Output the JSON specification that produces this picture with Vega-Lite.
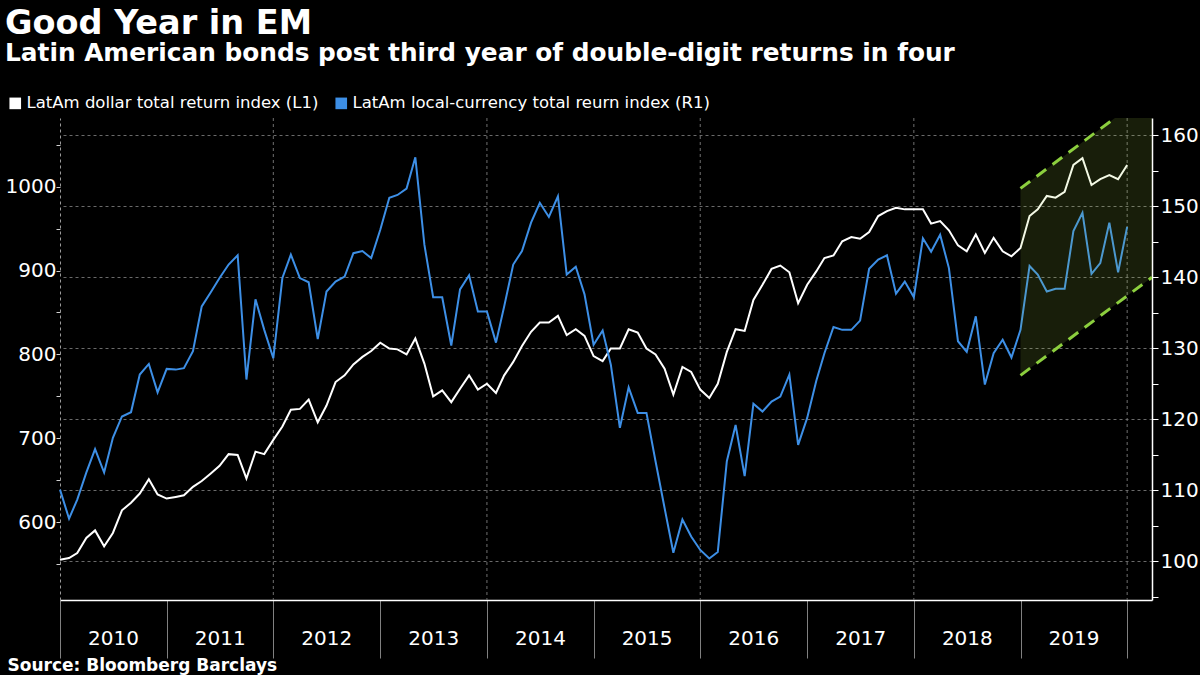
{
 "$schema": "https://vega.github.io/schema/vega-lite/v6.json",
 "width": 1092,
 "height": 482,
 "autosize": "none",
 "padding": {"left": 60, "top": 118, "right": 48, "bottom": 75},
 "background": "#000000",
 "config": {"view": {"stroke": null}, "font": "DejaVu Sans"},
 "title": {
  "text": "Good Year in EM",
  "subtitle": "Latin American bonds post third year of double-digit returns in four",
  "anchor": "start", "frame": "group", "dx": -55, "offset": 28,
  "font": "DejaVu Sans", "fontSize": 33.5, "fontWeight": "bold", "color": "#ffffff",
  "subtitleFont": "DejaVu Sans", "subtitleFontSize": 24.8, "subtitleFontWeight": "bold",
  "subtitleColor": "#ffffff", "subtitlePadding": 0
 },
 "datasets": {
  "series": [
   {"date":"2010-01-01","dollar":555,"local":110.1},
   {"date":"2010-02-01","dollar":557,"local":106.0},
   {"date":"2010-03-01","dollar":563,"local":108.7},
   {"date":"2010-04-01","dollar":581,"local":112.5},
   {"date":"2010-05-01","dollar":590,"local":115.8},
   {"date":"2010-06-01","dollar":571,"local":112.5},
   {"date":"2010-07-01","dollar":587,"local":117.4},
   {"date":"2010-08-01","dollar":614,"local":120.4},
   {"date":"2010-09-01","dollar":623,"local":121.0},
   {"date":"2010-10-01","dollar":634,"local":126.3},
   {"date":"2010-11-01","dollar":651,"local":127.8},
   {"date":"2010-12-01","dollar":633,"local":123.8},
   {"date":"2011-01-01","dollar":628,"local":127.1},
   {"date":"2011-02-01","dollar":630,"local":127.0},
   {"date":"2011-03-01","dollar":632,"local":127.2},
   {"date":"2011-04-01","dollar":642,"local":129.6},
   {"date":"2011-05-01","dollar":649,"local":135.9},
   {"date":"2011-06-01","dollar":658,"local":137.9},
   {"date":"2011-07-01","dollar":667,"local":139.9},
   {"date":"2011-08-01","dollar":681,"local":141.8},
   {"date":"2011-09-01","dollar":680,"local":143.1},
   {"date":"2011-10-01","dollar":652,"local":125.6},
   {"date":"2011-11-01","dollar":684,"local":136.9},
   {"date":"2011-12-01","dollar":681,"local":132.6},
   {"date":"2012-01-01","dollar":698,"local":128.6},
   {"date":"2012-02-01","dollar":714,"local":139.9},
   {"date":"2012-03-01","dollar":734,"local":143.2},
   {"date":"2012-04-01","dollar":735,"local":139.9},
   {"date":"2012-05-01","dollar":746,"local":139.3},
   {"date":"2012-06-01","dollar":719,"local":131.3},
   {"date":"2012-07-01","dollar":739,"local":138.0},
   {"date":"2012-08-01","dollar":767,"local":139.4},
   {"date":"2012-09-01","dollar":775,"local":140.1},
   {"date":"2012-10-01","dollar":788,"local":143.4},
   {"date":"2012-11-01","dollar":797,"local":143.7},
   {"date":"2012-12-01","dollar":804,"local":142.7},
   {"date":"2013-01-01","dollar":814,"local":146.7},
   {"date":"2013-02-01","dollar":807,"local":151.2},
   {"date":"2013-03-01","dollar":806,"local":151.6},
   {"date":"2013-04-01","dollar":800,"local":152.5},
   {"date":"2013-05-01","dollar":819,"local":156.9},
   {"date":"2013-06-01","dollar":789,"local":144.6},
   {"date":"2013-07-01","dollar":750,"local":137.2},
   {"date":"2013-08-01","dollar":757,"local":137.2},
   {"date":"2013-09-01","dollar":743,"local":130.4},
   {"date":"2013-10-01","dollar":759,"local":138.3},
   {"date":"2013-11-01","dollar":775,"local":140.3},
   {"date":"2013-12-01","dollar":758,"local":135.2},
   {"date":"2014-01-01","dollar":765,"local":135.2},
   {"date":"2014-02-01","dollar":754,"local":130.8},
   {"date":"2014-03-01","dollar":775,"local":135.9},
   {"date":"2014-04-01","dollar":791,"local":141.8},
   {"date":"2014-05-01","dollar":810,"local":143.7},
   {"date":"2014-06-01","dollar":827,"local":147.7},
   {"date":"2014-07-01","dollar":838,"local":150.5},
   {"date":"2014-08-01","dollar":838,"local":148.5},
   {"date":"2014-09-01","dollar":846,"local":151.4},
   {"date":"2014-10-01","dollar":823,"local":140.4},
   {"date":"2014-11-01","dollar":830,"local":141.5},
   {"date":"2014-12-01","dollar":822,"local":137.6},
   {"date":"2015-01-01","dollar":798,"local":130.5},
   {"date":"2015-02-01","dollar":792,"local":132.5},
   {"date":"2015-03-01","dollar":807,"local":127.7},
   {"date":"2015-04-01","dollar":807,"local":118.8},
   {"date":"2015-05-01","dollar":830,"local":124.5},
   {"date":"2015-06-01","dollar":826,"local":120.9},
   {"date":"2015-07-01","dollar":807,"local":120.9},
   {"date":"2015-08-01","dollar":800,"local":114.1},
   {"date":"2015-09-01","dollar":783,"local":107.5},
   {"date":"2015-10-01","dollar":752,"local":101.2},
   {"date":"2015-11-01","dollar":785,"local":105.9},
   {"date":"2015-12-01","dollar":779,"local":103.5},
   {"date":"2016-01-01","dollar":758,"local":101.6},
   {"date":"2016-02-01","dollar":748,"local":100.4},
   {"date":"2016-03-01","dollar":765,"local":101.3},
   {"date":"2016-04-01","dollar":803,"local":114.1},
   {"date":"2016-05-01","dollar":830,"local":119.2},
   {"date":"2016-06-01","dollar":828,"local":112.0},
   {"date":"2016-07-01","dollar":865,"local":122.2},
   {"date":"2016-08-01","dollar":883,"local":121.1},
   {"date":"2016-09-01","dollar":902,"local":122.5},
   {"date":"2016-10-01","dollar":906,"local":123.2},
   {"date":"2016-11-01","dollar":898,"local":126.3},
   {"date":"2016-12-01","dollar":861,"local":116.4},
   {"date":"2017-01-01","dollar":883,"local":120.2},
   {"date":"2017-02-01","dollar":899,"local":125.4},
   {"date":"2017-03-01","dollar":915,"local":129.3},
   {"date":"2017-04-01","dollar":918,"local":133.0},
   {"date":"2017-05-01","dollar":935,"local":132.6},
   {"date":"2017-06-01","dollar":940,"local":132.6},
   {"date":"2017-07-01","dollar":938,"local":133.9},
   {"date":"2017-08-01","dollar":946,"local":141.2},
   {"date":"2017-09-01","dollar":965,"local":142.5},
   {"date":"2017-10-01","dollar":971,"local":143.1},
   {"date":"2017-11-01","dollar":975,"local":137.7},
   {"date":"2017-12-01","dollar":973,"local":139.4},
   {"date":"2018-01-01","dollar":973,"local":137.2},
   {"date":"2018-02-01","dollar":973,"local":145.5},
   {"date":"2018-03-01","dollar":956,"local":143.6},
   {"date":"2018-04-01","dollar":959,"local":146.0},
   {"date":"2018-05-01","dollar":948,"local":141.3},
   {"date":"2018-06-01","dollar":930,"local":131.0},
   {"date":"2018-07-01","dollar":923,"local":129.5},
   {"date":"2018-08-01","dollar":943,"local":134.5},
   {"date":"2018-09-01","dollar":921,"local":124.9},
   {"date":"2018-10-01","dollar":939,"local":129.3},
   {"date":"2018-11-01","dollar":923,"local":131.2},
   {"date":"2018-12-01","dollar":917,"local":128.7},
   {"date":"2019-01-01","dollar":927,"local":132.6},
   {"date":"2019-02-01","dollar":965,"local":141.6},
   {"date":"2019-03-01","dollar":973,"local":140.4},
   {"date":"2019-04-01","dollar":989,"local":138.0},
   {"date":"2019-05-01","dollar":987,"local":138.4},
   {"date":"2019-06-01","dollar":994,"local":138.4},
   {"date":"2019-07-01","dollar":1026,"local":146.5},
   {"date":"2019-08-01","dollar":1034,"local":149.1},
   {"date":"2019-09-01","dollar":1002,"local":140.5},
   {"date":"2019-10-01","dollar":1009,"local":142.0},
   {"date":"2019-11-01","dollar":1014,"local":147.7},
   {"date":"2019-12-01","dollar":1009,"local":140.7},
   {"date":"2020-01-01","dollar":1026,"local":147.1}
  ],
  "band": [
   {"date":"2019-01-01","upper":998,"lower":775},
   {"date":"2020-03-26","upper":1115,"lower":892}
  ],
  "grid": [
   {"date":"2012-01-01"},{"date":"2014-01-01"},{"date":"2016-01-01"},{"date":"2018-01-01"},{"date":"2020-01-01"}
  ]
 },
 "encoding": {
  "x": {
   "field": "date", "type": "temporal",
   "scale": {"type": "utc", "domain": [{"year":2010,"month":1,"date":1,"utc":true},{"year":2020,"month":3,"date":26,"utc":true}]},
   "axis": {
    "values": [
     {"year":2010,"month":1,"date":1,"utc":true},{"year":2011,"month":1,"date":1,"utc":true},
     {"year":2012,"month":1,"date":1,"utc":true},{"year":2013,"month":1,"date":1,"utc":true},
     {"year":2014,"month":1,"date":1,"utc":true},{"year":2015,"month":1,"date":1,"utc":true},
     {"year":2016,"month":1,"date":1,"utc":true},{"year":2017,"month":1,"date":1,"utc":true},
     {"year":2018,"month":1,"date":1,"utc":true},{"year":2019,"month":1,"date":1,"utc":true},
     {"year":2020,"month":1,"date":1,"utc":true}
    ],
    "labelExpr": "utcyear(datum.value) < 2020 ? utcFormat(datum.value, '%Y') : ''",
    "grid": false,
    "domainColor": "#ffffff", "domainWidth": 1.5,
    "tickColor": "#808080", "tickSize": 58, "tickWidth": 1,
    "labelOffset": 53, "labelAlign": "center", "labelBaseline": "top", "labelPadding": -30,
    "labelFont": "DejaVu Sans", "labelFontSize": 20, "labelColor": "#ffffff",
    "labelFlush": false, "labelOverlap": false, "labelBound": false,
    "title": "Source: Bloomberg Barclays",
    "titleAnchor": "start", "titleAlign": "left", "titleX": -53, "titleY": 70,
    "titleBaseline": "alphabetic", "titleFont": "DejaVu Sans", "titleFontSize": 17,
    "titleFontWeight": "bold", "titleColor": "#ffffff"
   }
  }
 },
 "layer": [
  {
   "data": {"name": "grid"},
   "mark": {"type": "rule", "color": "#707070", "strokeDash": [3, 3], "strokeWidth": 1},
   "encoding": {}
  },
  {
   "data": {"name": "series"},
   "mark": {"type": "line", "color": "#ffffff", "strokeWidth": 2},
   "encoding": {
    "y": {
     "field": "dollar", "type": "quantitative",
     "scale": {"domain": [507, 1082], "nice": false, "zero": false},
     "axis": {
      "orient": "left", "title": null, "grid": false,
      "values": [550, 600, 650, 700, 750, 800, 850, 900, 950, 1000, 1050],
      "labelExpr": "datum.value % 100 === 0 ? datum.label : ''",
      "format": "d",
      "domainColor": "#9a9a9a", "domainDash": [3, 3], "domainWidth": 1,
      "tickColor": "#d0d0d0", "tickSize": 4,
      "labelFont": "DejaVu Sans", "labelFontSize": 20, "labelColor": "#ffffff", "labelPadding": 0
     }
    },
    "color": {
     "datum": "LatAm dollar total return index (L1)",
     "scale": {"domain": ["LatAm dollar total return index (L1)", "LatAm local-currency total reurn index (R1)"], "range": ["#ffffff", "#3d8fe6"]},
     "legend": {
      "orient": "none", "legendX": -53, "legendY": -23, "direction": "horizontal",
      "title": null, "symbolType": "square", "symbolSize": 135,
      "labelFont": "DejaVu Sans", "labelFontSize": 16.5, "labelColor": "#ffffff",
      "columnPadding": 14, "labelOffset": 3, "labelLimit": 500,
      "encode": {"symbols": {"update": {"fill": {"scale": "color", "field": "value"}, "stroke": {"value": "transparent"}, "strokeWidth": {"value": 0}}}}
     }
    }
   }
  },
  {
   "data": {"name": "series"},
   "mark": {"type": "line", "color": "#3d8fe6", "strokeWidth": 2},
   "encoding": {
    "y": {
     "field": "local", "type": "quantitative",
     "scale": {"domain": [94.55, 162.44], "nice": false, "zero": false},
     "axis": {
      "orient": "right", "title": null,
      "values": [95, 100, 105, 110, 115, 120, 125, 130, 135, 140, 145, 150, 155, 160],
      "labelExpr": "datum.value % 10 === 0 ? datum.label : ''",
      "grid": true, "gridColor": "#6a6a6a", "gridDash": [3, 3], "gridWidth": 1,
      "gridOpacity": {"condition": {"test": "datum.value % 10 !== 0", "value": 0}, "value": 1},
      "domainColor": "#ffffff", "domainWidth": 1.5,
      "tickColor": "#ffffff", "tickSize": 6,
      "labelFont": "DejaVu Sans", "labelFontSize": 20, "labelColor": "#ffffff", "labelPadding": 2
     }
    },
    "color": {
     "datum": "LatAm local-currency total reurn index (R1)",
     "scale": {"domain": ["LatAm dollar total return index (L1)", "LatAm local-currency total reurn index (R1)"], "range": ["#ffffff", "#3d8fe6"]}
    }
   }
  },
  {
   "data": {"name": "band"},
   "mark": {"type": "area", "color": "#a8d84a", "opacity": 0.14, "clip": true},
   "encoding": {
    "y": {"field": "upper", "type": "quantitative", "scale": {"domain": [507, 1082], "nice": false, "zero": false}, "axis": null},
    "y2": {"field": "lower"}
   }
  },
  {
   "data": {"name": "band"},
   "mark": {"type": "line", "color": "#8ccf3e", "strokeWidth": 3, "strokeDash": [12, 8], "clip": true},
   "encoding": {
    "y": {"field": "upper", "type": "quantitative", "scale": {"domain": [507, 1082], "nice": false, "zero": false}, "axis": null}
   }
  },
  {
   "data": {"name": "band"},
   "mark": {"type": "line", "color": "#8ccf3e", "strokeWidth": 3, "strokeDash": [12, 8], "clip": true},
   "encoding": {
    "y": {"field": "lower", "type": "quantitative", "scale": {"domain": [507, 1082], "nice": false, "zero": false}, "axis": null}
   }
  }
 ],
 "resolve": {"scale": {"y": "independent"}}
}
